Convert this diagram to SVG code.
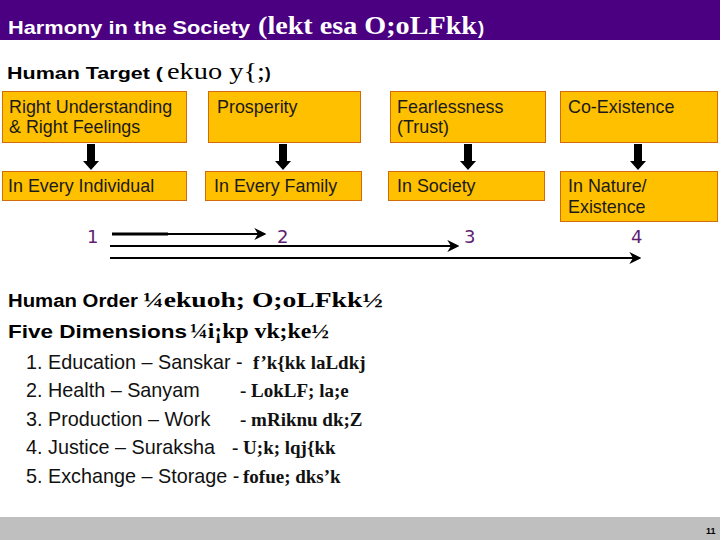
<svg xmlns="http://www.w3.org/2000/svg" width="720" height="540" viewBox="0 0 720 540">
<style>
.sans{font-family:"Liberation Sans",Arial,sans-serif}
.serif{font-family:"Liberation Serif","Times New Roman",serif}
.box{fill:#FFC000;stroke:#D26A0E;stroke-width:1}
.bt{font-family:"Liberation Sans",Arial,sans-serif;font-size:17.9px;fill:#1a1a1a}
.num{font-family:"DejaVu Sans",Verdana,sans-serif;font-size:18px;fill:#5E1F73}
.li{font-family:"Liberation Sans",Arial,sans-serif;font-size:19.8px;fill:#111}
.lh{font-family:"Liberation Serif","Times New Roman",serif;font-size:19px;font-weight:bold;fill:#111}
.ln{stroke:#000;stroke-width:2.2;fill:none}
</style>
<defs>
<marker id="ah" viewBox="0 0 10 10" refX="8" refY="5" markerWidth="5.5" markerHeight="5.5" orient="auto" markerUnits="strokeWidth">
<path d="M0,0 L10,5 L0,10 L3,5 z" fill="#000"/>
</marker>
<path id="down" d="M-4,0 H4 V17 H8 L0,26 L-8,17 H-4 Z" fill="#000"/>
</defs>
<rect width="720" height="540" fill="#fff"/>
<g id="title">
<rect x="0" y="0" width="720" height="40" fill="#4B0082"/>
<text x="8" y="34" class="sans" font-size="18.5" font-weight="bold" fill="#fff" textLength="242" lengthAdjust="spacingAndGlyphs">Harmony in the Society</text>
<text x="258" y="34" class="serif" font-size="25" font-weight="bold" fill="#fff" textLength="219" lengthAdjust="spacingAndGlyphs">(lekt esa O;oLFkk</text>
<text x="478" y="34" class="sans" font-size="18.5" font-weight="bold" fill="#fff">)</text>
</g>
<g id="human-target">
<text x="7" y="79" class="sans" font-size="17" font-weight="bold" fill="#000" textLength="156" lengthAdjust="spacingAndGlyphs">Human Target (</text>
<text x="167" y="79" class="serif" font-size="23" fill="#000" textLength="98" lengthAdjust="spacingAndGlyphs">ekuo y{;</text>
<text x="265" y="79" class="sans" font-size="17" font-weight="bold" fill="#000">)</text>
</g>
<g id="node-right-understanding">
<rect class="box" x="2.5" y="91.5" width="184" height="51"/>
<text class="bt" x="9" y="113">Right Understanding</text>
<text class="bt" x="9" y="133">&amp; Right Feelings</text>
</g>
<g id="node-prosperity">
<rect class="box" x="208.5" y="91.5" width="152" height="51"/>
<text class="bt" x="217" y="113">Prosperity</text>
</g>
<g id="node-fearlessness">
<rect class="box" x="390.5" y="91.5" width="155" height="51"/>
<text class="bt" x="397" y="113">Fearlessness</text>
<text class="bt" x="397" y="133">(Trust)</text>
</g>
<g id="node-coexistence">
<rect class="box" x="560.5" y="91.5" width="157" height="51"/>
<text class="bt" x="568" y="113">Co-Existence</text>
</g>
<g id="node-individual">
<rect class="box" x="2.5" y="171.5" width="184" height="29"/>
<text class="bt" x="8" y="192">In Every Individual</text>
</g>
<g id="node-family">
<rect class="box" x="205.5" y="171.5" width="156" height="29"/>
<text class="bt" x="214" y="192">In Every Family</text>
</g>
<g id="node-society">
<rect class="box" x="388.5" y="171.5" width="156" height="29"/>
<text class="bt" x="397" y="192">In Society</text>
</g>
<g id="node-nature">
<rect class="box" x="560.5" y="171.5" width="157" height="50"/>
<text class="bt" x="568" y="192">In Nature/</text>
<text class="bt" x="568" y="213">Existence</text>
</g>
<g id="node-numbers">
<text class="num" x="87" y="243">1</text>
<text class="num" x="277" y="243">2</text>
<text class="num" x="464" y="243">3</text>
<text class="num" x="631" y="243">4</text>
</g>
<g id="connectors">
<use href="#down" x="91" y="144"/>
<use href="#down" x="283" y="144"/>
<use href="#down" x="468" y="144"/>
<use href="#down" x="638" y="144"/>
<line x1="112" y1="234" x2="168" y2="234" stroke="#000" stroke-width="3.2"/>
<line class="ln" x1="112" y1="234" x2="264" y2="234" marker-end="url(#ah)"/>
<line class="ln" x1="110" y1="246" x2="457" y2="246" marker-end="url(#ah)"/>
<line class="ln" x1="110" y1="258" x2="639" y2="258" marker-end="url(#ah)"/>
</g>
<g id="human-order">
<text x="8" y="307" class="sans" font-size="18" font-weight="bold" fill="#000" textLength="130" lengthAdjust="spacingAndGlyphs">Human Order</text>
<text x="143" y="307" class="serif" font-size="22" font-weight="bold" fill="#000" textLength="240" lengthAdjust="spacingAndGlyphs">¼ekuoh; O;oLFkk½</text>
<text x="8" y="338" class="sans" font-size="18" font-weight="bold" fill="#000" textLength="179" lengthAdjust="spacingAndGlyphs">Five Dimensions</text>
<text x="190" y="338" class="serif" font-size="22" font-weight="bold" fill="#000" textLength="139" lengthAdjust="spacingAndGlyphs">¼i¡kp vk;ke½</text>
</g>
<g id="five-dimensions">
<text class="li" x="26" y="369">1. Education – Sanskar - </text>
<text class="lh" x="253" y="369">f’k{kk laLdkj</text>
<text class="li" x="26" y="397">2. Health – Sanyam</text>
<text class="lh" x="240" y="397">- LokLF; la;e</text>
<text class="li" x="26" y="426">3. Production – Work</text>
<text class="lh" x="240" y="426">- mRiknu dk;Z</text>
<text class="li" x="26" y="454">4. Justice – Suraksha</text>
<text class="lh" x="232" y="454">- U;k; lqj{kk</text>
<text class="li" x="26" y="483">5. Exchange – Storage - </text>
<text class="lh" x="243" y="483">fofue; dks’k</text>
</g>
<g id="footer">
<rect x="0" y="517" width="720" height="23" fill="#BFBFBF"/>
<text x="706" y="534" class="sans" font-size="9" font-weight="bold" fill="#000">11</text>
</g>
</svg>
